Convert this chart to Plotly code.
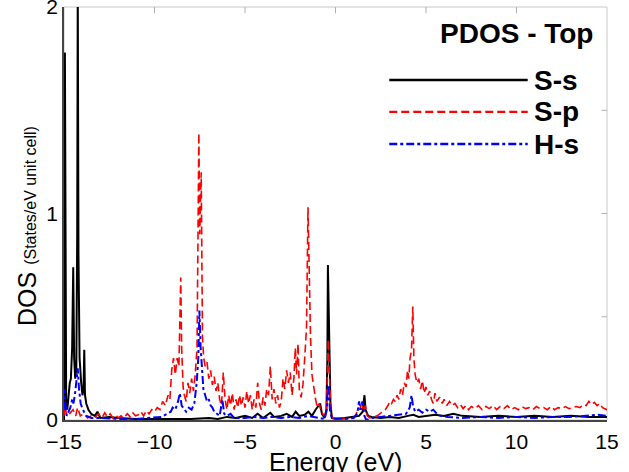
import plotly.graph_objects as go

# ---------------- data ----------------
ss_energy = [-15.0, -14.98, -14.95, -14.92, -14.88, -14.82, -14.75, -14.68, -14.62, -14.55,
             -14.49, -14.44, -14.38, -14.32, -14.27, -14.24, -14.2, -14.14, -14.05, -13.98,
             -13.92, -13.88, -13.84, -13.77, -13.65, -13.5, -13.3, -13.15, -13.0, -12.5,
             -12.0, -11.0, -10.0, -9.0, -8.0, -7.0, -6.5, -6.0, -5.5, -5.0,
             -4.6, -4.3, -4.0, -3.6, -3.4, -3.0, -2.7, -2.4, -2.2, -2.0,
             -1.7, -1.5, -1.3, -1.1, -0.95, -0.85, -0.75, -0.6, -0.5, -0.45,
             -0.42, -0.38, -0.33, -0.28, -0.2, 0.0, 0.5, 1.0, 1.3, 1.5,
             1.6, 1.66, 1.8, 2.0, 2.5, 3.0, 3.5, 4.0, 4.3, 4.6,
             5.0, 5.5, 6.0, 6.5, 7.0, 8.0, 9.0, 10.0, 11.0, 12.0,
             13.0, 14.0, 15.0]
ss_dos = [0.0, 0.3, 1.78, 0.6, 0.08, 0.05, 0.12, 0.18, 0.2, 0.35,
          0.74, 0.3, 0.2, 0.25, 0.9, 2.1, 0.8, 0.3, 0.18, 0.12,
          0.15, 0.34, 0.12, 0.08, 0.05, 0.03, 0.02, 0.04, 0.01, 0.015,
          0.01, 0.005, 0.005, 0.005, 0.005, 0.01, 0.005, 0.015, 0.01, 0.02,
          0.01, 0.03, 0.01, 0.035, 0.015, 0.02, 0.03, 0.015, 0.04, 0.02,
          0.025, 0.04, 0.02, 0.05, 0.07, 0.08, 0.03, 0.01, 0.05, 0.3,
          0.75, 0.49, 0.3, 0.08, 0.01, 0.005, 0.01, 0.015, 0.02, 0.04,
          0.12, 0.05, 0.02, 0.015, 0.01, 0.015, 0.01, 0.02, 0.025, 0.015,
          0.02, 0.025, 0.02, 0.03, 0.02, 0.015, 0.02, 0.015, 0.02, 0.015,
          0.02, 0.015, 0.015]

sp_energy = [-15.0, -14.95, -14.85, -14.7, -14.5, -14.35, -14.25, -14.1, -13.9, -13.7,
             -13.5, -13.3, -13.1, -12.9, -12.75, -12.6, -12.45, -12.3, -12.15, -12.0,
             -11.85, -11.7, -11.5, -11.35, -11.2, -11.05, -10.9, -10.75, -10.6, -10.45,
             -10.3, -10.15, -10.0, -9.85, -9.7, -9.55, -9.4, -9.25, -9.15, -9.05,
             -8.95, -8.85, -8.75, -8.65, -8.55, -8.5, -8.42, -8.35, -8.25, -8.15,
             -8.05, -7.95, -7.85, -7.75, -7.65, -7.55, -7.5, -7.42, -7.35, -7.28,
             -7.2, -7.1, -7.0, -6.9, -6.8, -6.7, -6.6, -6.5, -6.4, -6.3,
             -6.2, -6.1, -6.0, -5.9, -5.8, -5.7, -5.6, -5.5, -5.4, -5.3,
             -5.2, -5.1, -5.0, -4.9, -4.8, -4.7, -4.6, -4.5, -4.4, -4.3,
             -4.2, -4.1, -4.0, -3.9, -3.8, -3.7, -3.6, -3.5, -3.4, -3.3,
             -3.2, -3.1, -3.0, -2.9, -2.8, -2.7, -2.6, -2.5, -2.4, -2.3,
             -2.22, -2.15, -2.07, -2.0, -1.9, -1.8, -1.7, -1.6, -1.52, -1.45,
             -1.38, -1.3, -1.2, -1.1, -1.0, -0.9, -0.8, -0.7, -0.6, -0.5,
             -0.45, -0.4, -0.35, -0.3, -0.25, -0.15, 0.0, 0.5, 1.0, 1.15,
             1.25, 1.35, 1.45, 1.55, 1.65, 1.75, 1.9, 2.1, 2.3, 2.45,
             2.6, 2.75, 2.9, 3.0, 3.1, 3.2, 3.3, 3.4, 3.5, 3.6,
             3.7, 3.8, 3.9, 3.98, 4.05, 4.12, 4.2, 4.27, 4.33, 4.4,
             4.5, 4.6, 4.7, 4.8, 4.9, 5.0, 5.1, 5.2, 5.3, 5.4,
             5.5, 5.6, 5.75, 5.9, 6.0, 6.15, 6.3, 6.45, 6.6, 6.75,
             6.9, 7.05, 7.2, 7.35, 7.5, 7.7, 7.9, 8.1, 8.3, 8.5,
             8.7, 8.9, 9.1, 9.3, 9.5, 9.7, 9.9, 10.1, 10.3, 10.5,
             10.7, 10.9, 11.1, 11.3, 11.5, 11.7, 11.9, 12.1, 12.3, 12.5,
             12.7, 12.9, 13.1, 13.3, 13.5, 13.7, 13.85, 14.0, 14.15, 14.3,
             14.45, 14.6, 14.75, 14.9, 15.0]
sp_dos = [0.02, 0.07, 0.02, 0.03, 0.05, 0.02, 0.06, 0.02, 0.03, 0.01,
          0.02, 0.01, 0.03, 0.01, 0.035, 0.015, 0.03, 0.01, 0.025, 0.01,
          0.02, 0.01, 0.03, 0.015, 0.035, 0.02, 0.025, 0.04, 0.02, 0.045,
          0.03, 0.05, 0.04, 0.06, 0.05, 0.09, 0.07, 0.12, 0.1, 0.24,
          0.3, 0.22, 0.3, 0.26, 0.69, 0.35, 0.16, 0.12, 0.09, 0.18,
          0.13, 0.2, 0.14, 0.22, 0.35, 1.39, 0.9, 1.2, 0.4, 0.3,
          0.26, 0.28, 0.2, 0.24, 0.17, 0.21, 0.14, 0.18, 0.1, 0.07,
          0.23, 0.1, 0.05, 0.12, 0.07, 0.13, 0.05, 0.1, 0.06, 0.12,
          0.07, 0.11, 0.06, 0.14, 0.08, 0.12, 0.05, 0.1, 0.06, 0.18,
          0.08, 0.05, 0.11, 0.07, 0.15, 0.12, 0.26, 0.1, 0.15, 0.08,
          0.12, 0.06, 0.09, 0.2, 0.15, 0.24, 0.18, 0.23, 0.12, 0.2,
          0.35, 0.22, 0.37, 0.15, 0.11, 0.17, 0.3, 0.45, 1.03, 0.7,
          0.4, 0.22, 0.15, 0.1, 0.06, 0.08, 0.04, 0.03, 0.02, 0.05,
          0.2, 0.39, 0.25, 0.1, 0.03, 0.01, 0.005, 0.005, 0.01, 0.03,
          0.06, 0.05, 0.09, 0.04, 0.07, 0.02, 0.01, 0.015, 0.02, 0.03,
          0.04, 0.05, 0.07, 0.09, 0.08, 0.1, 0.09, 0.12, 0.1, 0.15,
          0.12, 0.18, 0.16, 0.24, 0.2, 0.3, 0.34, 0.55, 0.3, 0.22,
          0.18, 0.2, 0.15, 0.19, 0.13, 0.16, 0.12, 0.14, 0.1, 0.08,
          0.13, 0.09, 0.11, 0.08, 0.1, 0.07, 0.09, 0.07, 0.08, 0.06,
          0.075, 0.055, 0.07, 0.05, 0.065, 0.055, 0.07, 0.05, 0.065, 0.055,
          0.07, 0.05, 0.065, 0.055, 0.07, 0.05, 0.06, 0.05, 0.065, 0.055,
          0.06, 0.05, 0.065, 0.055, 0.06, 0.05, 0.065, 0.05, 0.06, 0.055,
          0.065, 0.055, 0.06, 0.065, 0.06, 0.075, 0.07, 0.09, 0.075, 0.085,
          0.07, 0.08, 0.06, 0.055, 0.05]

hs_energy = [-15.0, -14.97, -14.93, -14.85, -14.75, -14.65, -14.55, -14.48, -14.4, -14.3,
             -14.24, -14.17, -14.08, -14.0, -13.9, -13.75, -13.5, -13.0, -12.0, -11.0,
             -10.0, -9.6, -9.3, -9.1, -9.0, -8.85, -8.7, -8.6, -8.5, -8.4,
             -8.25, -8.1, -7.95, -7.8, -7.67, -7.58, -7.52, -7.45, -7.38, -7.3,
             -7.2, -7.1, -7.0, -6.9, -6.8, -6.7, -6.55, -6.4, -6.25, -6.15,
             -6.0, -5.8, -5.6, -5.0, -4.5, -4.0, -3.5, -3.0, -2.5, -2.0,
             -1.5, -1.0, -0.6, -0.48, -0.42, -0.36, -0.3, -0.2, 0.5, 1.0,
             1.2, 1.3, 1.4, 1.5, 1.6, 1.7, 2.0, 2.5, 3.0, 3.5,
             3.9, 4.1, 4.2, 4.28, 4.4, 4.6, 4.8, 5.0, 5.2, 5.4,
             5.6, 5.8, 6.2, 7.0, 8.0, 9.0, 10.0, 11.0, 12.0, 13.0,
             14.0, 14.5, 15.0]
hs_dos = [0.05, 0.15, 0.08, 0.02, 0.04, 0.06, 0.1, 0.08, 0.12, 0.2,
          0.25, 0.15, 0.08, 0.06, 0.04, 0.02, 0.01, 0.01, 0.005, 0.005,
          0.01, 0.015, 0.03, 0.04, 0.06, 0.05, 0.09, 0.13, 0.07, 0.06,
          0.04, 0.06, 0.05, 0.08, 0.18, 0.3, 0.53, 0.35, 0.23, 0.15,
          0.12, 0.09, 0.1, 0.07, 0.06, 0.04, 0.03, 0.02, 0.1, 0.03,
          0.02, 0.03, 0.01, 0.01, 0.015, 0.01, 0.015, 0.01, 0.015, 0.01,
          0.02, 0.01, 0.005, 0.05, 0.17, 0.12, 0.04, 0.01, 0.005, 0.01,
          0.03, 0.09, 0.05, 0.09, 0.02, 0.0, 0.01, 0.015, 0.02, 0.025,
          0.03, 0.06, 0.12, 0.07, 0.04, 0.05, 0.035, 0.05, 0.04, 0.05,
          0.03, 0.02, 0.015, 0.01, 0.015, 0.01, 0.015, 0.01, 0.015, 0.015,
          0.02, 0.025, 0.02]

series_names = ["S-s", "S-p", "H-s"]
legend_title = "PDOS - Top"
x_ticks = [-15, -10, -5, 0, 5, 10, 15]
y_ticks = [0, 1, 2]

FONT = "Liberation Sans, Arial, sans-serif"
styles = [
    dict(color="#000000", width=2, dash="solid"),
    dict(color="#ff0000", width=1.6, dash="8px,4px"),
    dict(color="#0000ff", width=2, dash="8px,3px,3px,3px"),
]

fig = go.Figure()
for name, xs, ys, st in zip(series_names, [ss_energy, sp_energy, hs_energy],
                            [ss_dos, sp_dos, hs_dos], styles):
    fig.add_trace(go.Scatter(x=xs, y=ys, mode="lines", name=name, line=st,
                             showlegend=False))

shapes = []
# light grey frame (top/right)
shapes.append(dict(type="rect", xref="paper", yref="paper", x0=0, x1=1, y0=0, y1=1,
                   line=dict(color="#c8c8c8", width=1), layer="below"))
# top ticks
for t in x_ticks[1:-1]:
    shapes.append(dict(type="line", xref="x", yref="paper", x0=t, x1=t, y0=1, y1=0.985,
                       line=dict(color="#b0b0b0", width=1)))
# right ticks
for t in [0.5, 1.0, 1.5]:
    shapes.append(dict(type="line", xref="paper", yref="y", x0=1, x1=0.99, y0=t, y1=t,
                       line=dict(color="#b0b0b0", width=1)))

# custom legend
leg_y = [0.823, 0.746, 0.668]
annotations = [dict(text="<b>" + legend_title + "</b>", xref="paper", yref="paper",
                    x=0.978, y=0.937, xanchor="right", yanchor="middle", showarrow=False,
                    font=dict(family=FONT, size=28, color="black"))]
for name, st, yy in zip(series_names, styles, leg_y):
    shapes.append(dict(type="line", xref="paper", yref="paper", x0=0.599, x1=0.854,
                       y0=yy, y1=yy, line=dict(color=st["color"], width=st["width"] + 0.5,
                                                 dash=st["dash"])))
    annotations.append(dict(text="<b>" + name + "</b>", xref="paper", yref="paper",
                            x=0.862, y=yy, xanchor="left", yanchor="middle", showarrow=False,
                            font=dict(family=FONT, size=28, color="black")))

# y-axis title
annotations.append(dict(text="DOS <span style='font-size:16px'>(States/eV unit cell)</span>",
                        xref="paper", yref="paper", x=-0.068, y=0.47, textangle=-90,
                        xanchor="center", yanchor="middle", showarrow=False,
                        font=dict(family=FONT, size=25, color="black")))
# x-axis title
annotations.append(dict(text="Energy (eV)", xref="paper", yref="paper", x=0.5, y=-0.101,
                        xanchor="center", yanchor="middle", showarrow=False,
                        font=dict(family=FONT, size=25, color="black")))

fig.update_layout(
    width=629, height=472,
    margin=dict(l=64, r=22, t=7, b=52),
    paper_bgcolor="white", plot_bgcolor="white",
    font=dict(family=FONT, color="black"),
    xaxis=dict(range=[-15, 15], tickvals=x_ticks, showgrid=False, zeroline=False,
               showline=True, linecolor="#444444", linewidth=1.5, ticks="",
               tickfont=dict(size=21), ticklabelstandoff=2, automargin=False,
               ticklabeloverflow="allow"),
    yaxis=dict(range=[0, 2], tickvals=y_ticks, showgrid=False, zeroline=False,
               showline=True, linecolor="#444444", linewidth=1.5, ticks="",
               tickfont=dict(size=21), automargin=False, ticklabeloverflow="allow"),
    shapes=shapes, annotations=annotations,
)

fig.write_html("out.html", config={"displayModeBar": False},
               post_script="document.body.style.margin='0';document.body.style.overflow='hidden';")
